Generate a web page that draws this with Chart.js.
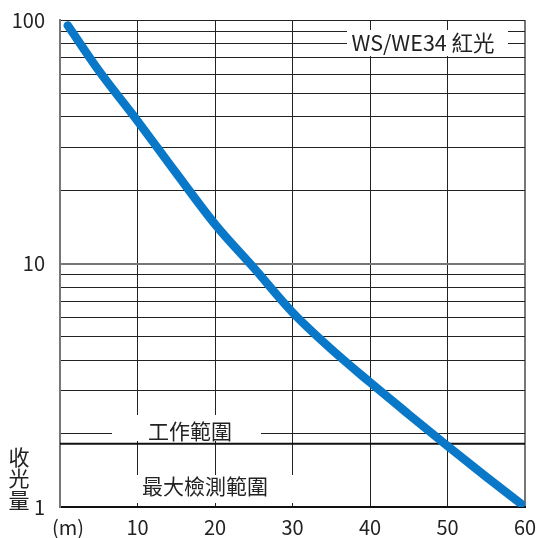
<!DOCTYPE html>
<html>
<head>
<meta charset="utf-8">
<script src="https://cdn.jsdelivr.net/npm/chart.js@4"></script>
<style>
  html, body { margin: 0; padding: 0; background: #fff; }
  canvas { display: block; }
</style>
</head>
<body>
<canvas id="chart" width="536" height="538"></canvas>
<script>
// distance (m) vs received light
const distances = [1, 5, 10, 15, 20, 25, 30, 35, 40, 45, 50, 55, 59.5];
const received = [95, 62, 38.5, 23.5, 14.5, 9.6, 6.3, 4.45, 3.25, 2.4, 1.78, 1.33, 1.03];

// working range threshold line
const thresholdX = [0, 60];
const thresholdY = [1.82, 1.82];

const xTicks = [0, 10, 20, 30, 40, 50, 60];
const yGrid = [1, 2, 3, 4, 5, 6, 7, 8, 9, 10, 20, 30, 40, 50, 60, 70, 80, 90, 100];
const yLabels = [1, 10, 100];

const FONT = '"Noto Sans CJK TC", "Noto Sans", sans-serif';

// text boxes drawn on top of the grid (white background hides the lines)
const labelBoxes = [
  { text: 'WS/WE34 紅光', box: [347, 30, 508, 56], at: [423, 43], size: 21.5 },
  { text: '工作範圍', box: [112, 415, 261, 441], at: [190, 431], size: 21 },
  { text: '最大檢測範圍', box: [128, 475, 296, 503], at: [205, 486], size: 21 },
];

const textPlugin = {
  id: 'texts',
  beforeDatasetsDraw(chart) {
    const ctx = chart.ctx;
    ctx.save();
    labelBoxes.forEach(l => {
      const [x1, y1, x2, y2] = l.box;
      ctx.fillStyle = '#fff';
      ctx.fillRect(x1, y1, x2 - x1, y2 - y1);
      ctx.fillStyle = '#222';
      ctx.font = l.size + 'px ' + FONT;
      ctx.textAlign = 'center';
      ctx.textBaseline = 'middle';
      ctx.fillText(l.text, l.at[0], l.at[1]);
    });
    ctx.restore();
  },
  afterDraw(chart) {
    const ctx = chart.ctx;
    ctx.save();
    ctx.fillStyle = '#222';
    ctx.textAlign = 'center';
    ctx.textBaseline = 'middle';
    ctx.font = '20px ' + FONT;
    ctx.fillText('(m)', 68, 527);
    ctx.font = '21px ' + FONT;
    ['收', '光', '量'].forEach((c, i) => ctx.fillText(c, 19, 457 + i * 21.5));
    ctx.restore();
  }
};

// keep the plot area fixed: drop the label overflow padding chart.js adds
const noPad = (s) => {
  s.paddingTop = 0; s.paddingBottom = 0; s.paddingLeft = 0; s.paddingRight = 0;
};

new Chart(document.getElementById('chart'), {
  type: 'line',
  data: {
    datasets: [
      {
        data: distances.map((d, i) => ({ x: d, y: received[i] })),
        borderColor: '#0a78c8',
        borderWidth: 8.5,
        borderCapStyle: 'round',
        pointRadius: 0,
        cubicInterpolationMode: 'monotone',
        order: 1,
      },
      {
        data: thresholdX.map((d, i) => ({ x: d, y: thresholdY[i] })),
        borderColor: '#111',
        borderWidth: 2,
        pointRadius: 0,
        order: 2,
      },
    ],
  },
  options: {
    responsive: false,
    animation: false,
    events: [],
    layout: { padding: { left: 0, right: 11, top: 20, bottom: 0 } },
    plugins: { legend: { display: false }, tooltip: { enabled: false } },
    scales: {
      x: {
        type: 'linear',
        min: 0,
        max: 60,
        afterFit: (s) => { s.height = 31; noPad(s); },
        afterBuildTicks: (s) => { s.ticks = xTicks.map(v => ({ value: v })); },
        border: { color: '#111', width: 2 },
        grid: {
          drawTicks: false,
          color: (c) => c.tick && c.tick.value === 60 ? '#777' : '#222',
          lineWidth: (c) => c.tick && c.tick.value === 60 ? 2 : 1,
        },
        ticks: {
          padding: 8,
          maxRotation: 0,
          autoSkip: false,
          color: '#222',
          font: { family: FONT, size: 20 },
          callback: (v) => v === 0 ? '' : String(v),
        },
      },
      y: {
        type: 'logarithmic',
        min: 1,
        max: 100,
        afterFit: (s) => { s.width = 60; noPad(s); },
        afterBuildTicks: (s) => { s.ticks = yGrid.map(v => ({ value: v })); },
        border: { color: '#777', width: 2 },
        grid: {
          drawTicks: false,
          color: (c) => c.tick && c.tick.value === 10 ? '#777' : '#222',
          lineWidth: (c) => c.tick && c.tick.value === 10 ? 2 : 1,
        },
        ticks: {
          padding: 15,
          autoSkip: false,
          color: '#222',
          font: { family: FONT, size: 20 },
          callback: (v) => yLabels.includes(v) ? String(v) : '',
        },
      },
    },
  },
  plugins: [textPlugin],
});
</script>
</body>
</html>
